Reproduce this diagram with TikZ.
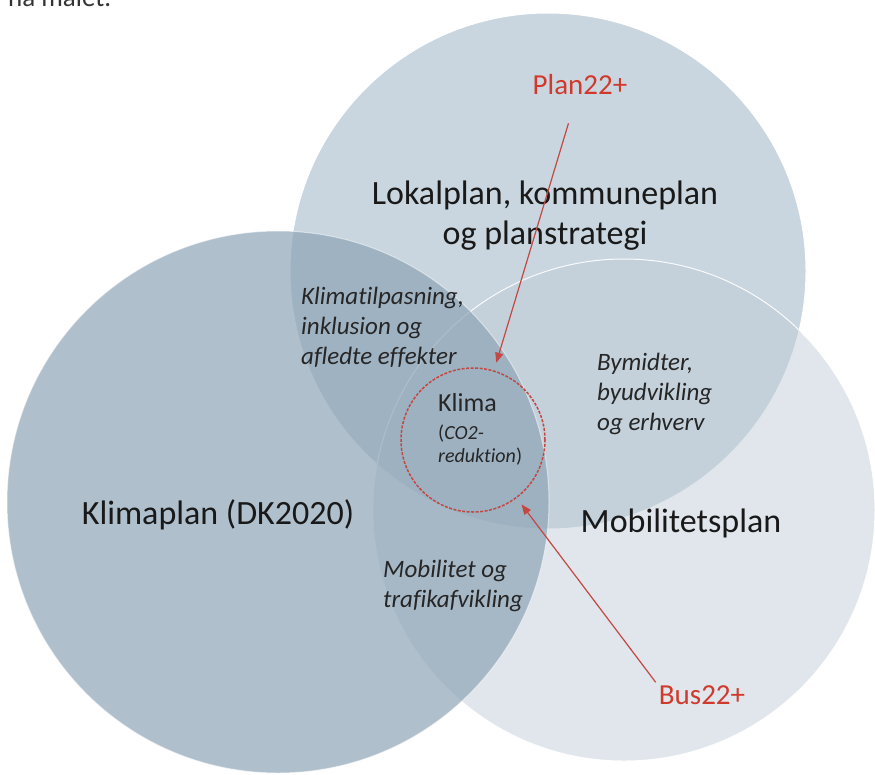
\documentclass[tikz,border=0pt]{standalone}
\usepackage{fontspec}
\setmainfont{Carlito}[Ligatures=NoCommon]
\usetikzlibrary{arrows.meta}
\definecolor{topfarve}{RGB}{201,214,223}
\definecolor{hoejrefarve}{RGB}{191,204,215}
\definecolor{venstrefarve}{RGB}{142,164,182}
\definecolor{planrod}{RGB}{208,57,43}
\definecolor{pilrod}{RGB}{196,72,66}
\begin{document}
\begin{tikzpicture}[x=1pt,y=-1pt,
    cirkel/.style={circle, draw=white, line width=1pt, inner sep=0pt},
    hovedtekst/.style={font=\fontsize{34}{40}\selectfont, text=black!90, align=center},
    overlap/.style={font=\fontsize{25}{30}\selectfont\itshape, text=black!85, align=left, anchor=west, inner sep=0pt},
    rodtekst/.style={font=\fontsize{29}{34}\selectfont, text=planrod, inner sep=3pt},
    klimaring/.style={circle, draw=pilrod, line width=1.5pt, dash pattern=on 3pt off 1.5pt, minimum size=144pt, inner sep=0pt},
    pil/.style={pilrod, line width=1.2pt, -{Triangle[length=10pt,width=8pt]}}]
        % Ramme og baggrund
        \useasboundingbox (0,0) rectangle (875,774);
        \clip (0,0) rectangle (875,774);
        \fill[white] (0,0) rectangle (875,774);

        % Afskaaret tekst fra siden ovenfor
        \node[anchor=base west, inner sep=0pt, font=\fontsize{27}{32}\selectfont, text=black!80] (rest) at (8,6) {nå målet.};

        % De tre planer
        \node[cirkel, fill=topfarve, minimum size=516pt] (lokal) at (548,271) {};
        \node[cirkel, fill=hoejrefarve, fill opacity=0.48, draw opacity=0.9, minimum size=502pt] (mobil) at (624,510) {};
        \node[cirkel, fill=venstrefarve, fill opacity=0.7, draw opacity=0.5, minimum size=542pt] (klimaplan) at (278,502) {};

        % Navne paa planerne
        \node[hovedtekst] (lokaltekst) at (545,216) {Lokalplan, kommuneplan\\og planstrategi};
        \node[hovedtekst] (klimaplantekst) at (218,515) {Klimaplan (DK2020)};
        \node[hovedtekst] (mobiltekst) at (681,523) {Mobilitetsplan};

        % Tekster i overlappene
        \node[overlap] (tilpasning) at (301,327) {Klimatilpasning,\\inklusion og\\afledte effekter};
        \node[overlap] (bymidter) at (597,394) {Bymidter,\\byudvikling\\og erhverv};
        \node[overlap] (trafik) at (383,586) {Mobilitet og\\trafikafvikling};

        % Klima i midten
        \node[klimaring] (klima) at (473,440) {};
        \node[anchor=north west, inner sep=0pt, align=left, font=\fontsize{20}{23}\selectfont, text=black!85] (klimatekst) at (438,393)
            {{\fontsize{26}{30}\selectfont Klima}\\[5pt](\textit{CO2-}\\\textit{reduktion})};

        % Projekterne peger ind paa klima
        \node[rodtekst] (plan) at (580,85) {Plan22+};
        \node[rodtekst] (bus) at (702,695) {Bus22+};
        \draw[pil, shorten <=26pt, shorten >=8pt] (plan) -- (klima);
        \draw[pil, shorten >=8pt] (bus.north west) -- (klima);
      \end{tikzpicture}
\end{document}
